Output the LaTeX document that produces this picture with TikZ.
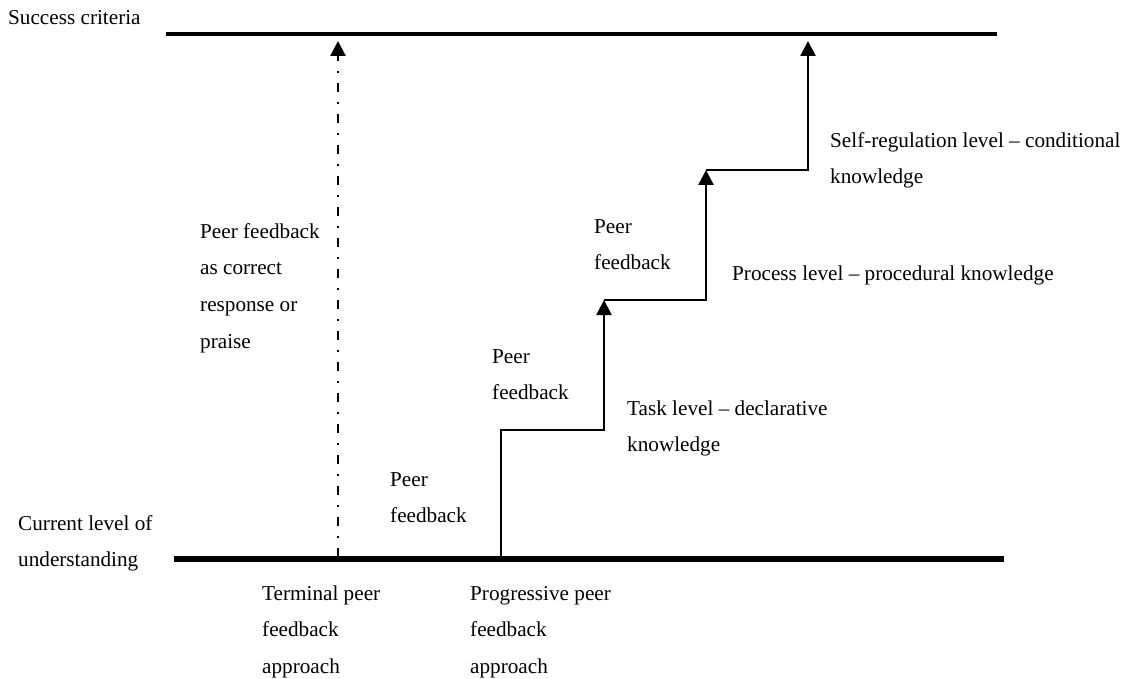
\documentclass[tikz,border=0pt]{standalone}
\usepackage{fontspec}
\setmainfont{Liberation Serif}
\usetikzlibrary{arrows.meta}
\newcommand{\fl}{\rule{0pt}{16pt}}
\tikzset{
  lbl/.style={font=\fontsize{21.2}{36.6}\selectfont, align=left, anchor=north west, inner sep=0pt},
  stepline/.style={line width=2.6pt},
  tip/.style={-{Triangle[length=15pt,width=15pt]}},
  dashdot/.style={line width=2.6pt, dash pattern=on 9pt off 10pt on 2pt off 10pt}
}
\begin{document}
\begin{tikzpicture}[x=1pt,y=-1pt]
\useasboundingbox (0,0) rectangle (1132,679);
% levels
\coordinate (tl) at (166,34);
\coordinate (tr) at (997,34);
\coordinate (bl) at (174,559);
\coordinate (br) at (1004,559);
\draw[line width=4.6pt] (tl) -- (tr);
\draw[line width=5.4pt] (bl) -- (br);
% terminal approach
\coordinate (d0) at (338,557);
\coordinate (d1) at (338,41);
\draw[dashdot, tip] (d0) -- (d1);
% progressive staircase
\coordinate (s0) at (501,559);
\coordinate (s1) at (501,430);
\coordinate (s2) at (604,430);
\coordinate (s3) at (604,300);
\coordinate (s4) at (706,300);
\coordinate (s5) at (706,170);
\coordinate (s6) at (808,170);
\coordinate (s7) at (808,41);
\draw[stepline, tip] (s0) -- (s1) -- (s2) -- (s3);
\draw[stepline, tip] (s3) -- (s4) -- (s5);
\draw[stepline, tip] (s5) -- (s6) -- (s7);
% labels
\node[lbl] (sc) at (8,8) {\fl Success criteria};
\node[lbl] (cl) at (18,514) {\fl Current level of\\understanding};
\node[lbl] (pfc) at (200,222) {\fl Peer feedback\\as correct\\response or\\praise};
\node[lbl] (pf1) at (390,470) {\fl Peer\\feedback};
\node[lbl] (pf2) at (492,347) {\fl Peer\\feedback};
\node[lbl] (pf3) at (594,217) {\fl Peer\\feedback};
\node[lbl] (task) at (627,399) {\fl Task level -- declarative\\knowledge};
\node[lbl] (proc) at (732,264) {\fl Process level -- procedural knowledge};
\node[lbl] (self) at (830,131) {\fl Self-regulation level -- conditional\\knowledge};
\node[lbl] (term) at (262,584) {\fl Terminal peer\\feedback\\approach};
\node[lbl] (prog) at (470,584) {\fl Progressive peer\\feedback\\approach};
\end{tikzpicture}
\end{document}
